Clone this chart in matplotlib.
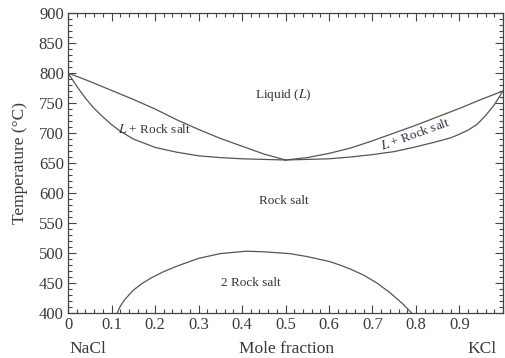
import matplotlib.pyplot as plt
from matplotlib.ticker import MultipleLocator, FixedLocator

# liquidus / solidus, NaCl side (mole fraction KCl, temperature in C)
liq_left_x = [0.0, 0.05, 0.1, 0.15, 0.2, 0.25, 0.3, 0.35, 0.4, 0.45, 0.5]
liq_left_t = [800, 786, 771, 756, 740, 722, 706, 691, 678, 665, 655]
sol_left_x = [0.0, 0.02, 0.04, 0.06, 0.08, 0.1, 0.12, 0.15, 0.2, 0.25, 0.3, 0.35, 0.4, 0.45, 0.5]
sol_left_t = [800, 778, 758, 741, 727, 714, 703, 690, 676, 668, 662, 659, 657, 656, 655]

# KCl side
liq_right_x = [0.5, 0.55, 0.6, 0.65, 0.7, 0.75, 0.8, 0.85, 0.9, 0.95, 1.0]
liq_right_t = [655, 659, 666, 675, 687, 700, 713, 727, 741, 756, 770]
sol_right_x = [0.5, 0.55, 0.6, 0.65, 0.7, 0.75, 0.8, 0.85, 0.88, 0.9, 0.92, 0.94, 0.96, 0.98, 1.0]
sol_right_t = [655, 656, 657, 660, 664, 669, 677, 686, 692, 698, 705, 714, 729, 747, 770]

# solvus (miscibility gap)
solvus_x = [0.113, 0.12, 0.13, 0.15, 0.17, 0.19, 0.22, 0.25, 0.3, 0.35, 0.41, 0.45, 0.51, 0.55, 0.6, 0.625,
            0.65, 0.68, 0.71, 0.74, 0.77, 0.79]
solvus_t = [400, 411, 422, 438, 449, 458, 469, 478, 491, 499, 503, 502, 499, 494, 486, 480,
            473, 463, 450, 434, 415, 400]

xticks = [0, 0.1, 0.2, 0.3, 0.4, 0.5, 0.6, 0.7, 0.8, 0.9]
xtick_labels = ['0', '0.1', '0.2', '0.3', '0.4', '0.5', '0.6', '0.7', '0.8', '0.9']

plt.rcParams['font.family'] = ['Liberation Serif', 'DejaVu Serif']
plt.rcParams['mathtext.fontset'] = 'stix'
txt = '#3a3a3a'
lab = '#2e3448'
lc = '#555555'

fig = plt.figure(figsize=(5.05, 3.58), dpi=100)
ax = fig.add_axes([0.1347, 0.1257, 0.8613, 0.838])

for xs, ts in [(liq_left_x, liq_left_t), (sol_left_x, sol_left_t),
               (liq_right_x, liq_right_t), (sol_right_x, sol_right_t),
               (solvus_x, solvus_t)]:
    ax.plot(xs, ts, color=lc, lw=0.9)

ax.set_xlim(0, 1)
ax.set_ylim(400, 900)
ax.xaxis.set_major_locator(FixedLocator(xticks + [1.0]))
ax.set_xticklabels(xtick_labels + [''])
ax.xaxis.set_minor_locator(MultipleLocator(0.02))
ax.yaxis.set_major_locator(MultipleLocator(50))
ax.yaxis.set_minor_locator(MultipleLocator(10))
ax.tick_params(which='both', direction='in', top=True, right=True, colors='#444444',
               labelcolor=txt, labelsize=12, width=0.8)
ax.tick_params(which='major', length=6, pad=3)
ax.tick_params(which='minor', length=3)
for s in ax.spines.values():
    s.set_color('#444444')
    s.set_linewidth(0.9)

ax.set_ylabel('Temperature (°C)', fontsize=12.5, color=txt, labelpad=8)
fig.text(88 / 505, 1 - 349 / 358, 'NaCl', ha='center', va='center', fontsize=12.5, color=txt)
fig.text(287 / 505, 1 - 349 / 358, 'Mole fraction', ha='center', va='center', fontsize=12.5, color=txt)
fig.text(482 / 505, 1 - 349 / 358, 'KCl', ha='center', va='center', fontsize=12.5, color=txt)

ax.text(0.495, 763, 'Liquid ($L$)', ha='center', va='center', fontsize=9.5, color=lab)
ax.text(0.2, 705, '$L$ + Rock salt', ha='center', va='center', fontsize=9.5, color=lab)
ax.text(0.8, 698, '$L$ + Rock salt', ha='center', va='center', fontsize=9.5, color=lab, rotation=20)
ax.text(0.495, 587, 'Rock salt', ha='center', va='center', fontsize=9.5, color=lab)
ax.text(0.42, 450, '2 Rock salt', ha='center', va='center', fontsize=9.5, color=lab)

plt.savefig('out.png', dpi=100)
